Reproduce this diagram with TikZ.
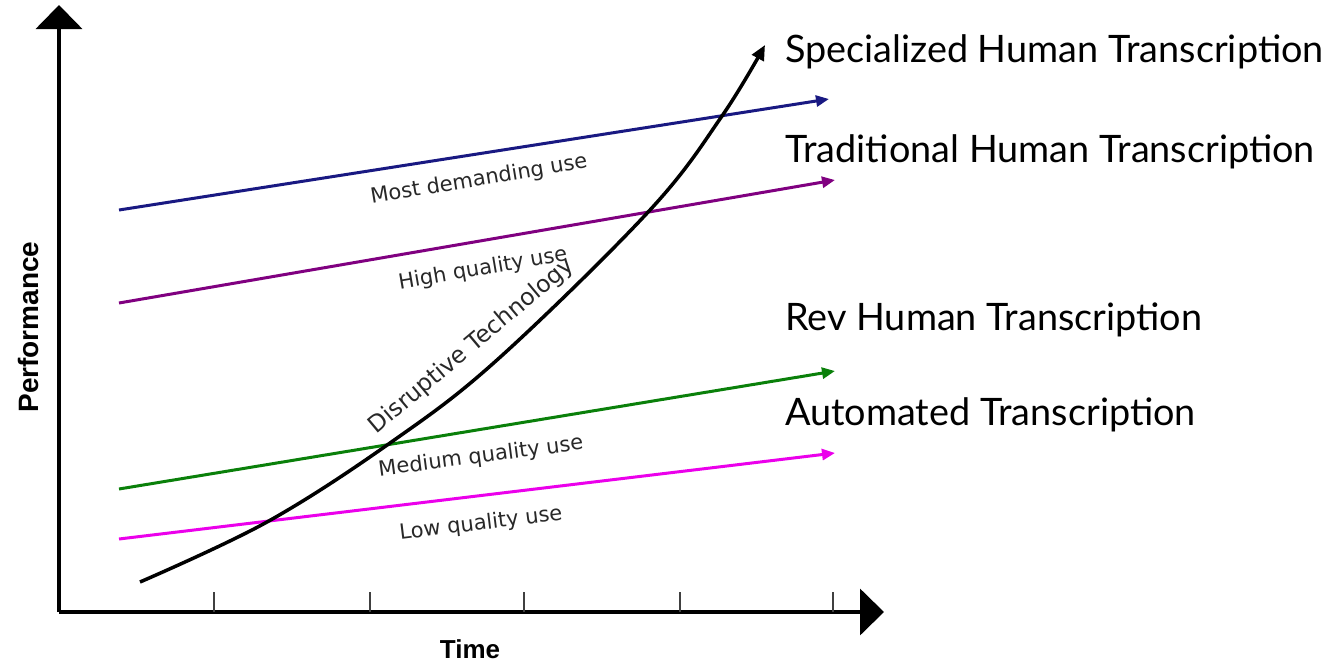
\documentclass[tikz,border=0pt]{standalone}
\usepackage{fontspec}
\setmainfont{Liberation Sans}
\newfontfamily\rightfont{Lato}
\newfontfamily\chartlabelfont{DejaVu Sans}
\usetikzlibrary{arrows.meta}
\definecolor{navyline}{RGB}{25,25,130}
\definecolor{purpleline}{RGB}{128,0,128}
\definecolor{greenline}{RGB}{10,128,10}
\definecolor{magline}{RGB}{235,0,235}
\definecolor{labgray}{RGB}{40,40,40}
\tikzset{
  trendline/.style={line width=3pt,-{Triangle[length=13pt,width=11pt]}},
  axisline/.style={line width=4pt,-{Triangle[length=24pt,width=46pt]}},
  tickline/.style={line width=1.6pt,draw=black!75},
  uselabel/.style={font=\chartlabelfont\fontsize{21}{25}\selectfont,text=labgray,inner sep=0pt},
  seriesname/.style={font=\rightfont\fontsize{37.8}{44}\selectfont,anchor=base west,inner sep=0pt},
  axislabel/.style={font=\bfseries\fontsize{28}{32}\selectfont,inner sep=0pt}
}
\begin{document}
\begin{tikzpicture}[x=1pt,y=-1pt]
\useasboundingbox (0,0) rectangle (1342,665);
% axes
\coordinate (O) at (59,612);
\coordinate (ytop) at (59,5);
\coordinate (xend) at (884,612);
\draw[axisline] (O) -- (ytop);
\draw[axisline] (O) -- (xend);
\foreach \tx [count=\i] in {214,370,524,680,833}{
  \coordinate (tk\i) at (\tx,612);
  \coordinate (tt\i) at (\tx,592);
  \draw[tickline] (tk\i) -- (tt\i);
}
\node[axislabel,rotate=90] (perf) at (28,327) {Performance};
\node[axislabel,font=\bfseries\fontsize{26}{30}\selectfont] (time) at (470,649) {Time};
% trend lines
\coordinate (b1) at (119,210); \coordinate (b2) at (829,99);
\coordinate (p1) at (119,303); \coordinate (p2) at (835,180);
\coordinate (g1) at (119,489); \coordinate (g2) at (835,371);
\coordinate (m1) at (119,539); \coordinate (m2) at (835,453);
\draw[trendline,navyline] (b1) -- (b2);
\draw[trendline,purpleline] (p1) -- (p2);
\draw[trendline,greenline] (g1) -- (g2);
\draw[trendline,magline] (m1) -- (m2);
% disruptive curve
\draw[line width=3.5pt,-{Triangle[length=15pt,width=13pt]}]
  plot[smooth,tension=0.6] coordinates {(140,582) (267,522) (390,443) (497,360) (650,210) (722,116) (765,45)};
% labels on lines
\node[uselabel,rotate=9.5] (lmost) at (479,180) {Most demanding use};
\node[uselabel,rotate=9.8] (lhigh) at (483,269) {High quality use};
\node[uselabel,rotate=7.5] (lmed) at (481,457) {Medium quality use};
\node[uselabel,rotate=7] (llow) at (481,524) {Low quality use};
\node[uselabel,font=\chartlabelfont\fontsize{23.5}{28}\selectfont,rotate=40] (ldis) at (472,346) {Disruptive Technology};
% right-hand names
\node[seriesname] (spec) at (785,62) {Specialized Human Transcription};
\node[seriesname] (trad) at (785,162) {Traditional Human Transcription};
\node[seriesname] (rev) at (785,330) {Rev Human Transcription};
\node[seriesname] (auto) at (785,425) {Automated Transcription};
\end{tikzpicture}
\end{document}
